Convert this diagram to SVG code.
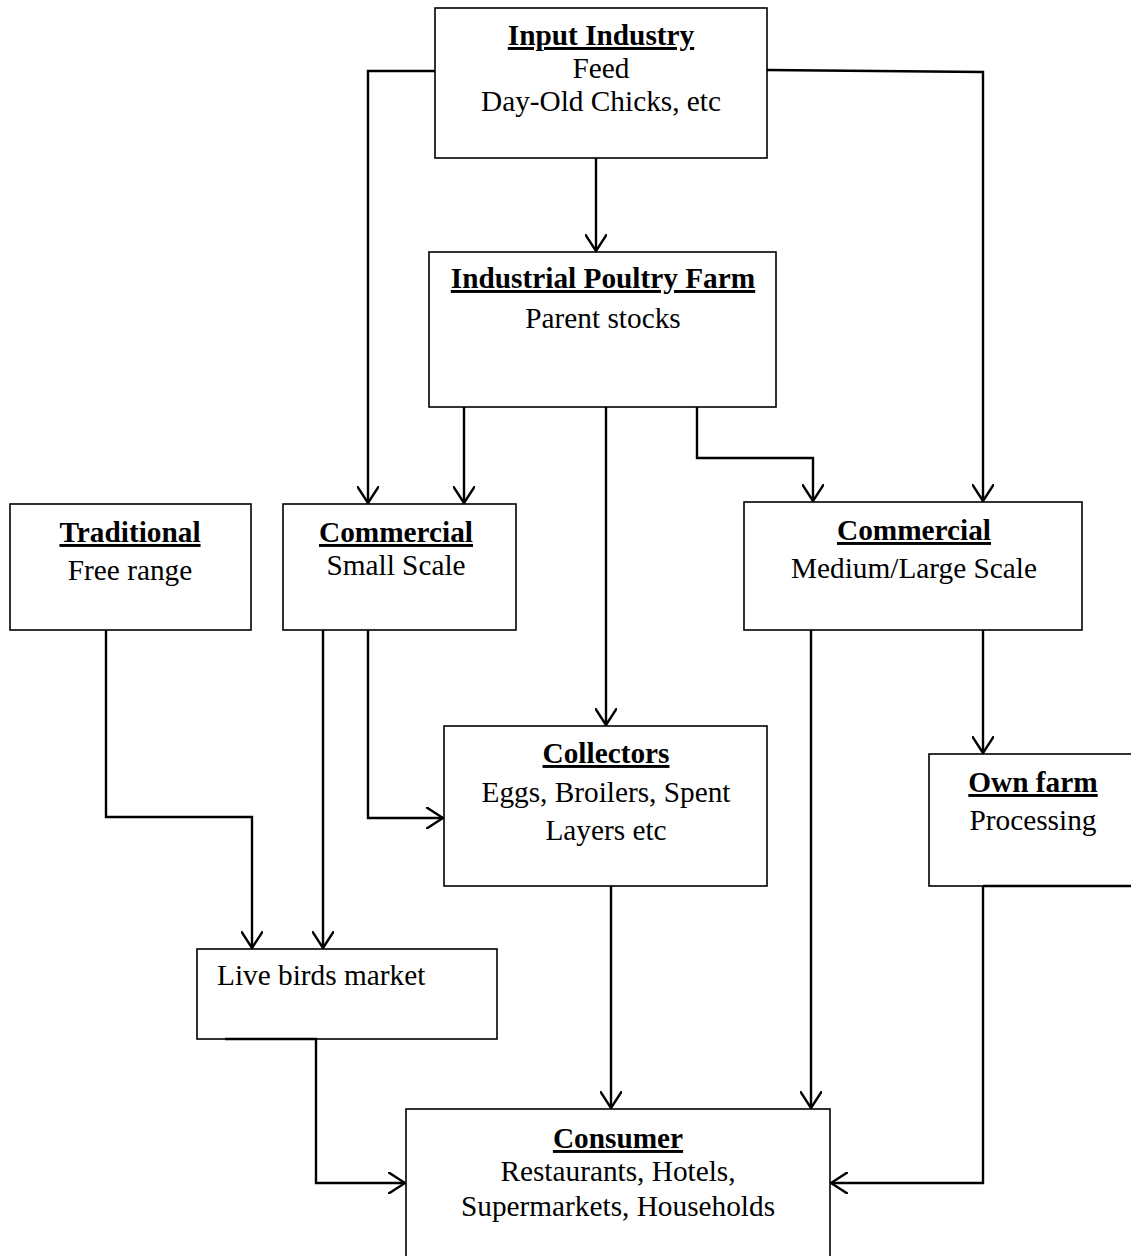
<svg xmlns="http://www.w3.org/2000/svg" width="1131" height="1256" viewBox="0 0 1131 1256">
<style>
.box{fill:#fff;stroke:#000;stroke-width:1.6}
text{font-family:"Liberation Serif","Times New Roman",serif;font-size:29.3px;fill:#000}
.t{font-weight:bold;text-decoration:underline}
.c{text-anchor:middle}
.ln{fill:none;stroke:#000;stroke-width:2.4}
</style>
<defs>
<marker id="ar" viewBox="0 0 18 22" refX="17" refY="11" markerWidth="18" markerHeight="22" markerUnits="userSpaceOnUse" orient="auto">
<path d="M0,0 L17,11 L0,22" fill="none" stroke="#000" stroke-width="2.4"/>
</marker>
</defs>
<rect width="1131" height="1256" fill="#fff"/>
<g id="input-industry">
<rect class="box" x="435" y="8" width="332" height="150"/>
<text class="c t" x="601" y="45">Input Industry</text>
<text class="c" x="601" y="78">Feed</text>
<text class="c" x="601" y="111">Day-Old Chicks, etc</text>
</g>
<g id="industrial-farm">
<rect class="box" x="429" y="252" width="347" height="155"/>
<text class="c t" x="603" y="288">Industrial Poultry Farm</text>
<text class="c" x="603" y="328">Parent stocks</text>
</g>
<g id="traditional">
<rect class="box" x="10" y="504" width="241" height="126"/>
<text class="c t" x="130" y="542">Traditional</text>
<text class="c" x="130" y="580">Free range</text>
</g>
<g id="commercial-small">
<rect class="box" x="283" y="504" width="233" height="126"/>
<text class="c t" x="396" y="542">Commercial</text>
<text class="c" x="396" y="575">Small Scale</text>
</g>
<g id="commercial-medium">
<rect class="box" x="744" y="502" width="338" height="128"/>
<text class="c t" x="914" y="540">Commercial</text>
<text class="c" x="914" y="578">Medium/Large Scale</text>
</g>
<g id="collectors">
<rect class="box" x="444" y="726" width="323" height="160"/>
<text class="c t" x="606" y="763">Collectors</text>
<text class="c" x="606" y="802">Eggs, Broilers, Spent</text>
<text class="c" x="606" y="840">Layers etc</text>
</g>
<g id="own-farm">
<rect class="box" x="929" y="754" width="220" height="132"/>
<text class="c t" x="1033" y="792">Own farm</text>
<text class="c" x="1033" y="830">Processing</text>
</g>
<g id="live-birds-market">
<rect class="box" x="197" y="949" width="300" height="90"/>
<text x="217" y="985">Live birds market</text>
</g>
<g id="consumer">
<rect class="box" x="406" y="1109" width="424" height="160"/>
<text class="c t" x="618" y="1148">Consumer</text>
<text class="c" x="618" y="1181">Restaurants, Hotels,</text>
<text class="c" x="618" y="1216">Supermarkets, Households</text>
</g>
<g id="connectors" class="ln">
<path class="ln" d="M435,71 H368 V503" marker-end="url(#ar)"/>
<path class="ln" d="M767,70 L983,72 V501" marker-end="url(#ar)"/>
<path class="ln" d="M596,158 V251" marker-end="url(#ar)"/>
<path class="ln" d="M464,407 V503" marker-end="url(#ar)"/>
<path class="ln" d="M606,407 V725" marker-end="url(#ar)"/>
<path class="ln" d="M697,407 V458 H813 V501" marker-end="url(#ar)"/>
<path class="ln" d="M983,630 V753" marker-end="url(#ar)"/>
<path class="ln" d="M106,630 V817 H252 V948" marker-end="url(#ar)"/>
<path class="ln" d="M323,630 V948" marker-end="url(#ar)"/>
<path class="ln" d="M368,630 V818 H443" marker-end="url(#ar)"/>
<path class="ln" d="M611,886 V1108" marker-end="url(#ar)"/>
<path class="ln" d="M811,630 V1108" marker-end="url(#ar)"/>
<path class="ln" d="M983,886 H1131 M983,886 V1183 H831" marker-end="url(#ar)"/>
<path class="ln" d="M225,1039 H316 V1183 H405" marker-end="url(#ar)"/>
</g>
</svg>
